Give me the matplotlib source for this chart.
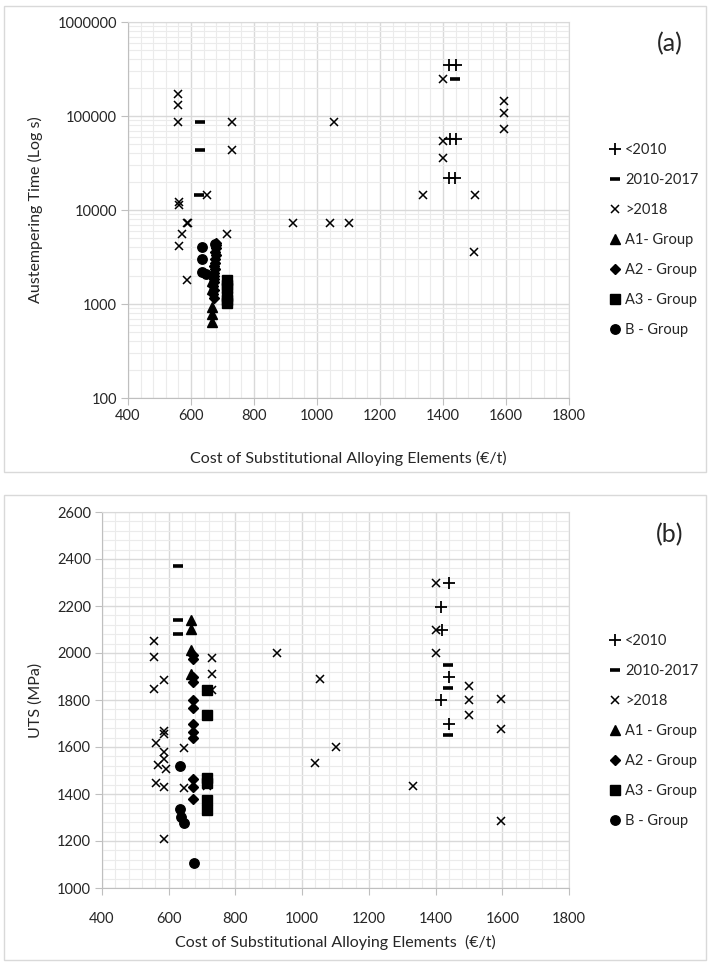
import matplotlib
matplotlib.use("Agg")
import matplotlib.pyplot as plt
from matplotlib.patches import Rectangle
from matplotlib.ticker import MultipleLocator, LogLocator, FuncFormatter, NullFormatter

plt.rcParams['font.family'] = ['Lato', 'DejaVu Sans']

# ---------------- (a) austempering time vs alloy cost ----------------
a_pre2010_cost = [1418, 1442, 1421, 1442, 1418, 1439]
a_pre2010_time = [345000, 345000, 57500, 57500, 21700, 21700]

a_mid_cost = [628, 628, 625, 1439]
a_mid_time = [86000, 43300, 14400, 250000]

a_post2018_cost = [560, 560, 560, 731, 731, 652, 563, 563, 588, 592, 572, 715, 562, 588,
                   925, 1040, 1100, 1055, 1336, 1500, 1499, 1400, 1595, 1595, 1595, 1400, 1400]
a_post2018_time = [173000, 130000, 86000, 86000, 43300, 14400, 12200, 11300, 7200, 7300, 5500, 5500,
                   4100, 1800, 7200, 7200, 7200, 86000, 14400, 14400, 3600, 250000, 144000, 107000,
                   72000, 54300, 36100]

a_A1_cost = [668, 667, 668, 667, 668]
a_A1_time = [1750, 1450, 930, 780, 650]

a_A2_cost = [680, 678, 680, 676, 678, 675, 676, 673, 675, 672, 674, 672, 673, 671, 672, 671, 672]
a_A2_time = [4500, 4200, 3900, 3600, 3300, 3000, 2750, 2550, 2350, 2150, 2000, 1850, 1700, 1550,
             1400, 1280, 1150]

a_A3_cost = [715, 715, 715, 715, 715, 715]
a_A3_time = [1800, 1600, 1480, 1220, 1100, 1020]

a_B_cost = [634, 634, 636, 647, 677]
a_B_time = [4000, 3000, 2200, 2100, 4300]

# ---------------- (b) UTS vs alloy cost ----------------
b_pre2010_cost = [1439, 1417, 1420, 1439, 1417, 1439]
b_pre2010_uts = [2296, 2197, 2098, 1899, 1798, 1699]

b_mid_cost = [627, 627, 627, 1436, 1436, 1436]
b_mid_uts = [2372, 2139, 2080, 1949, 1850, 1649]

b_post2018_cost = [556, 556, 556, 586, 561, 586, 586, 567, 586, 586, 591, 561, 586, 647, 647, 586,
                   731, 731, 731, 716, 924, 1054, 1040, 1101, 1331, 1401, 1401, 1401, 1499, 1499,
                   1499, 1596, 1596, 1596]
b_post2018_uts = [2052, 1981, 1847, 1885, 1618, 1670, 1655, 1522, 1580, 1550, 1505, 1447, 1429, 1596,
                  1425, 1209, 1978, 1912, 1843, 1433, 2000, 1889, 1530, 1600, 1435, 2296, 2098, 2000,
                  1861, 1798, 1738, 1805, 1678, 1285]

b_A1_cost = [667, 667, 667, 667]
b_A1_uts = [2140, 2100, 2012, 1912]

b_A2_cost = [672, 674, 672, 674, 673, 673, 672, 673, 672, 673, 673, 672]
b_A2_uts = [1991, 1974, 1897, 1878, 1800, 1768, 1696, 1664, 1638, 1463, 1431, 1378]

b_A3_cost = [714, 716, 716, 716, 716, 716]
b_A3_uts = [1843, 1736, 1466, 1445, 1374, 1331]

b_B_cost = [634, 634, 636, 647, 677]
b_B_uts = [1520, 1337, 1303, 1275, 1106]

W, H = 710, 963
fig = plt.figure(figsize=(W / 100, H / 100), dpi=100)


def fig_rect(x0, y0, x1, y1):
    """Pixel box (top-left origin) -> figure fraction rect."""
    return [x0 / W, 1 - y1 / H, (x1 - x0) / W, (y1 - y0) / H]


# chart-area frames
for (x0, y0, x1, y1) in [(4, 6, 706, 472), (4, 495, 706, 960)]:
    fig.add_artist(Rectangle((x0 / W, 1 - y1 / H), (x1 - x0) / W, (y1 - y0) / H,
                             transform=fig.transFigure, fill=False, ec='#d9d9d9', lw=1.0))

ax_a = fig.add_axes(fig_rect(128, 22, 569, 398))
ax_b = fig.add_axes(fig_rect(102, 512, 569, 888))

TXT = '#262626'
styles = dict(
    pre=dict(marker='+', ms=8, mew=1.3, color='black', ls='none'),
    mid=dict(marker='_', ms=7, mew=2.6, color='black', ls='none'),
    post=dict(marker='x', ms=5.5, mew=1.1, color='black', ls='none'),
    A1=dict(marker='^', ms=6.5, color='black', ls='none'),
    A2=dict(marker='D', ms=5.2, color='black', ls='none'),
    A3=dict(marker='s', ms=6.5, color='black', ls='none'),
    B=dict(marker='o', ms=6.8, color='black', ls='none'),
)

series_a = [
    (a_pre2010_cost, a_pre2010_time, 'pre', '<2010'),
    (a_mid_cost, a_mid_time, 'mid', '2010-2017'),
    (a_post2018_cost, a_post2018_time, 'post', '>2018'),
    (a_A1_cost, a_A1_time, 'A1', 'A1- Group'),
    (a_A2_cost, a_A2_time, 'A2', 'A2 - Group'),
    (a_A3_cost, a_A3_time, 'A3', 'A3 - Group'),
    (a_B_cost, a_B_time, 'B', 'B - Group'),
]
series_b = [
    (b_pre2010_cost, b_pre2010_uts, 'pre', '<2010'),
    (b_mid_cost, b_mid_uts, 'mid', '2010-2017'),
    (b_post2018_cost, b_post2018_uts, 'post', '>2018'),
    (b_A1_cost, b_A1_uts, 'A1', 'A1 - Group'),
    (b_A2_cost, b_A2_uts, 'A2', 'A2 - Group'),
    (b_A3_cost, b_A3_uts, 'A3', 'A3 - Group'),
    (b_B_cost, b_B_uts, 'B', 'B - Group'),
]


def style_axes(ax):
    ax.set_xlim(400, 1800)
    ax.xaxis.set_major_locator(MultipleLocator(200))
    ax.xaxis.set_minor_locator(MultipleLocator(40))
    ax.grid(which='major', color='#d9d9d9', lw=1.0)
    ax.grid(which='minor', color='#ebebeb', lw=0.8)
    ax.set_axisbelow(True)
    for side in ('top', 'right'):
        ax.spines[side].set_color('#d9d9d9')
    for side in ('left', 'bottom'):
        ax.spines[side].set_color('#bfbfbf')
    ax.tick_params(which='major', direction='out', length=5, color='#bfbfbf',
                   labelsize=10.5, labelcolor=TXT, pad=3)
    ax.tick_params(which='minor', length=0)


def draw(ax, series, legend_top):
    handles = []
    for xs, ys, key, label in series:
        h, = ax.plot(xs, ys, label=label, **styles[key])
        handles.append(h)
    ax.legend(handles=handles, loc='upper left',
              bbox_to_anchor=(609 / W, 1 - legend_top / H), bbox_transform=fig.transFigure,
              frameon=False, fontsize=10.5, handlelength=0.8, handletextpad=0.3,
              labelspacing=1.1, borderaxespad=0, borderpad=0, labelcolor=TXT)


# panel (a)
ax_a.set_yscale('log')
style_axes(ax_a)
ax_a.set_ylim(100, 1e6)
ax_a.yaxis.set_major_locator(LogLocator(base=10))
ax_a.yaxis.set_minor_locator(LogLocator(base=10, subs=range(2, 10)))
ax_a.yaxis.set_major_formatter(FuncFormatter(lambda v, p: f'{v:.0f}'))
ax_a.yaxis.set_minor_formatter(NullFormatter())
draw(ax_a, series_a, 143)
ax_a.set_ylabel('Austempering Time (Log s)', fontsize=11.5, color=TXT, labelpad=10)
ax_a.set_xlabel('Cost of Substitutional Alloying Elements (€/t)', fontsize=11.5, color=TXT,
                labelpad=20)
fig.text(670 / W, 1 - 44 / H, '(a)', fontsize=18, color=TXT, ha='center', va='center')

# panel (b)
style_axes(ax_b)
ax_b.tick_params(axis='x', which='major', pad=12)
ax_b.set_ylim(1000, 2600)
ax_b.yaxis.set_major_locator(MultipleLocator(200))
ax_b.yaxis.set_minor_locator(MultipleLocator(40))
draw(ax_b, series_b, 634)
ax_b.set_ylabel('UTS (MPa)', fontsize=11.5, color=TXT, labelpad=10)
ax_b.set_xlabel('Cost of Substitutional Alloying Elements  (€/t)', fontsize=11.5, color=TXT,
                labelpad=6.5)
fig.text(670 / W, 1 - 535 / H, '(b)', fontsize=18, color=TXT, ha='center', va='center')

fig.savefig('out.png', dpi=100)
